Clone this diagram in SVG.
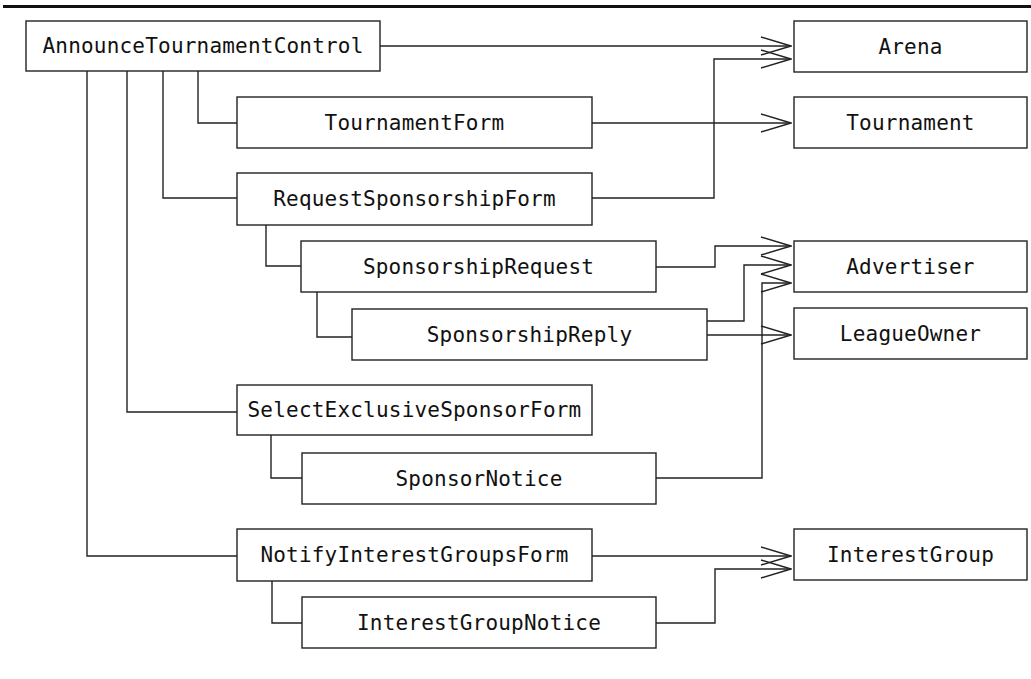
<svg xmlns="http://www.w3.org/2000/svg" width="1031" height="679" viewBox="0 0 1031 679">
<style>
.box{fill:#fff;stroke:#222;stroke-width:1.4}
.lbl{font-family:"DejaVu Sans Mono","Liberation Mono",monospace;font-size:21px;letter-spacing:0.2px;fill:#111;text-anchor:middle}
.c{fill:none;stroke:#222;stroke-width:1.4}
.a{marker-end:url(#open)}
</style>
<defs>
<marker id="open" markerUnits="userSpaceOnUse" markerWidth="32" markerHeight="20" viewBox="0 0 32 20" refX="31" refY="10" orient="auto">
<path d="M1,1 L31,10 L1,19" fill="none" stroke="#222" stroke-width="1.4"/>
</marker>
</defs>
<line x1="3" y1="6.5" x2="1031" y2="6.5" stroke="#111" stroke-width="3"/>
<g id="connectors">
<path class="c" d="M87,71 V556 H237"/>
<path class="c" d="M127,71 V412 H237"/>
<path class="c" d="M163,71 V198 H237"/>
<path class="c" d="M198,71 V123 H237"/>
<path class="c" d="M266,225 V266 H301"/>
<path class="c" d="M317,292 V337 H352"/>
<path class="c" d="M271,435 V478 H302"/>
<path class="c" d="M272,581 V623 H302"/>
<path class="c a" d="M380,46 H791"/>
<path class="c a" d="M592,198 H714 V59 H791"/>
<path class="c a" d="M592,123 H791"/>
<path class="c a" d="M656,267 H715 V246 H791"/>
<path class="c a" d="M707,321 H744 V265 H791"/>
<path class="c a" d="M707,335 H791"/>
<path class="c a" d="M656,478 H762 V283 H791"/>
<path class="c a" d="M592,556 H791"/>
<path class="c a" d="M656,623 H715 V569 H791"/>
</g>
<g id="AnnounceTournamentControl"><rect class="box" x="26" y="21" width="354" height="50"/><text class="lbl" x="203" y="53">AnnounceTournamentControl</text></g>
<g id="TournamentForm"><rect class="box" x="237" y="97" width="355" height="51"/><text class="lbl" x="414.5" y="130">TournamentForm</text></g>
<g id="RequestSponsorshipForm"><rect class="box" x="237" y="173" width="355" height="52"/><text class="lbl" x="414.5" y="206">RequestSponsorshipForm</text></g>
<g id="SponsorshipRequest"><rect class="box" x="301" y="241" width="355" height="51"/><text class="lbl" x="478.5" y="274">SponsorshipRequest</text></g>
<g id="SponsorshipReply"><rect class="box" x="352" y="309" width="355" height="51"/><text class="lbl" x="529.5" y="342">SponsorshipReply</text></g>
<g id="SelectExclusiveSponsorForm"><rect class="box" x="237" y="385" width="355" height="50"/><text class="lbl" x="414.5" y="417">SelectExclusiveSponsorForm</text></g>
<g id="SponsorNotice"><rect class="box" x="302" y="453" width="354" height="51"/><text class="lbl" x="479" y="486">SponsorNotice</text></g>
<g id="NotifyInterestGroupsForm"><rect class="box" x="237" y="529" width="355" height="52"/><text class="lbl" x="414.5" y="562">NotifyInterestGroupsForm</text></g>
<g id="InterestGroupNotice"><rect class="box" x="302" y="597" width="354" height="51"/><text class="lbl" x="479" y="630">InterestGroupNotice</text></g>
<g id="Arena"><rect class="box" x="794" y="21" width="233" height="51"/><text class="lbl" x="910.5" y="54">Arena</text></g>
<g id="Tournament"><rect class="box" x="794" y="97" width="233" height="51"/><text class="lbl" x="910.5" y="130">Tournament</text></g>
<g id="Advertiser"><rect class="box" x="794" y="241" width="233" height="51"/><text class="lbl" x="910.5" y="274">Advertiser</text></g>
<g id="LeagueOwner"><rect class="box" x="794" y="308" width="233" height="51"/><text class="lbl" x="910.5" y="341">LeagueOwner</text></g>
<g id="InterestGroup"><rect class="box" x="794" y="529" width="233" height="51"/><text class="lbl" x="910.5" y="562">InterestGroup</text></g>
</svg>
